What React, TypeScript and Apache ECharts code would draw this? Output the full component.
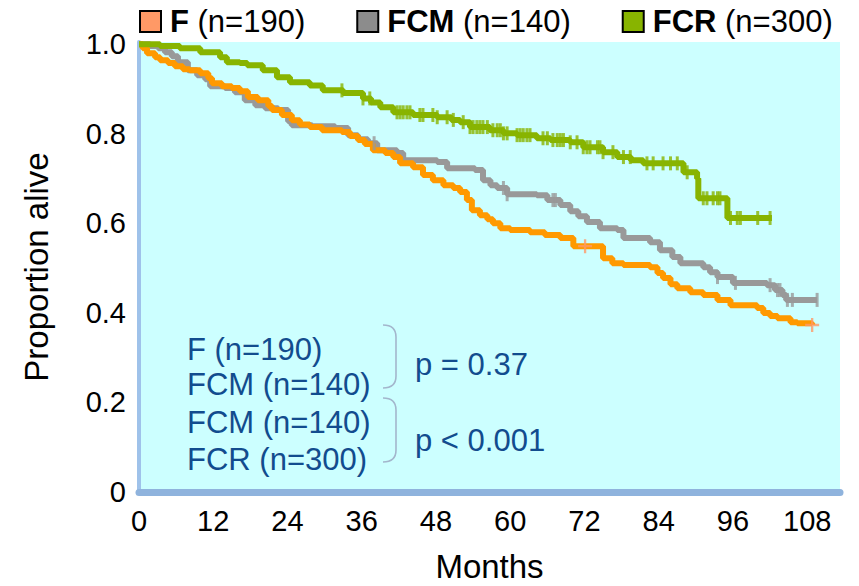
import { useEffect, useRef } from 'react';
import * as echarts from 'echarts';

const FONT = '"Liberation Sans", Arial, Helvetica, sans-serif';

// Axis ticks
const xTickValues = [0, 12, 24, 36, 48, 60, 72, 84, 96, 108];
const yTickValues = [0, 0.2, 0.4, 0.6, 0.8, 1.0];

// Legend
const groupNames = ['F', 'FCM', 'FCR'];
const groupN = ['190', '140', '300'];

// F (n=190) Kaplan-Meier steps
const fTimes = [0, 0.6, 1.3, 2.6, 3.4, 4.7, 5.8, 7.1, 8.2, 9.9, 11.2, 11.8, 13.4, 15.0, 16.3, 17.6, 19.2, 20.9, 21.5, 23.1, 24.7, 26.0, 27.6, 29.6, 32.8, 34.1, 35.4, 36.5, 37.8, 39.8, 41.1, 42.2, 44.3, 45.9, 47.5, 49.2, 50.8, 51.9, 53.0, 53.8, 55.1, 56.3, 57.2, 58.4, 60.0, 63.2, 65.6, 68.1, 70.2, 75.0, 76.5, 78.3, 82.6, 83.8, 84.7, 85.9, 87.0, 89.1, 91.2, 93.5, 95.6, 99.9, 100.9, 102.0, 103.2, 105.3, 106.4, 108.8];
const fSurv = [1.0, 0.991, 0.98, 0.971, 0.964, 0.958, 0.951, 0.944, 0.942, 0.935, 0.924, 0.913, 0.906, 0.902, 0.895, 0.882, 0.875, 0.862, 0.853, 0.842, 0.83, 0.821, 0.815, 0.808, 0.804, 0.795, 0.786, 0.777, 0.763, 0.757, 0.748, 0.734, 0.725, 0.708, 0.696, 0.685, 0.679, 0.67, 0.652, 0.629, 0.618, 0.609, 0.6, 0.589, 0.585, 0.58, 0.574, 0.567, 0.549, 0.522, 0.511, 0.507, 0.502, 0.489, 0.478, 0.464, 0.455, 0.446, 0.44, 0.429, 0.417, 0.411, 0.4, 0.393, 0.388, 0.379, 0.377, 0.373];
const fCensor = [72.1, 108.8];

// FCM (n=140)
const fcmTimes = [0, 1.8, 3.1, 4.2, 5.3, 6.3, 7.9, 9.4, 10.7, 11.5, 13.9, 15.5, 17.1, 18.8, 20.4, 22.5, 24.1, 24.7, 28.0, 31.7, 33.8, 35.4, 37.0, 38.5, 41.7, 42.7, 48.2, 49.8, 54.3, 55.6, 56.8, 57.9, 59.5, 64.3, 66.0, 68.1, 69.7, 71.0, 72.4, 74.5, 77.3, 78.3, 82.6, 84.2, 86.2, 87.5, 91.2, 92.3, 93.5, 96.0, 101.5, 102.8, 104.0, 104.6, 109.6];
const fcmSurv = [1.0, 0.996, 0.991, 0.982, 0.973, 0.96, 0.942, 0.931, 0.922, 0.906, 0.902, 0.893, 0.875, 0.864, 0.857, 0.853, 0.828, 0.819, 0.817, 0.813, 0.797, 0.788, 0.779, 0.763, 0.757, 0.741, 0.737, 0.723, 0.719, 0.696, 0.685, 0.679, 0.665, 0.663, 0.652, 0.641, 0.627, 0.616, 0.603, 0.589, 0.585, 0.567, 0.558, 0.54, 0.525, 0.511, 0.502, 0.491, 0.48, 0.467, 0.462, 0.451, 0.44, 0.429, 0.429];
const fcmCensor = [38.0, 58.9, 59.5, 66.9, 67.3, 93.5, 96.4, 102.0, 103.2, 103.6, 104.8, 105.6, 109.6];

// FCR (n=300)
const fcrTimes = [0, 3.4, 6.6, 9.9, 13.1, 14.2, 16.3, 17.5, 20.0, 22.3, 24.4, 27.6, 29.7, 33.0, 36.2, 37.5, 39.0, 41.1, 44.3, 48.2, 50.5, 51.9, 53.5, 56.7, 58.9, 61.1, 64.3, 66.5, 69.7, 71.8, 75.0, 77.3, 79.5, 81.5, 88.0, 90.2, 90.4, 95.1, 102.3];
const fcrSurv = [1.0, 0.996, 0.991, 0.982, 0.971, 0.96, 0.958, 0.953, 0.942, 0.926, 0.915, 0.908, 0.897, 0.891, 0.879, 0.87, 0.859, 0.848, 0.842, 0.837, 0.831, 0.826, 0.815, 0.808, 0.801, 0.797, 0.79, 0.786, 0.781, 0.77, 0.759, 0.748, 0.741, 0.734, 0.714, 0.7, 0.656, 0.612, 0.612];
const fcrCensor = [32.8, 36.2, 37.3, 41.7, 42.2, 42.7, 43.3, 43.8, 45.4, 45.9, 47.5, 48.2, 49.8, 50.8, 52.4, 53.5, 54.0, 54.6, 55.1, 55.6, 56.3, 57.2, 57.9, 58.4, 58.9, 59.5, 61.1, 61.6, 62.1, 62.7, 63.2, 65.3, 66.0, 66.9, 67.6, 68.1, 68.6, 69.7, 70.8, 71.8, 72.4, 72.9, 74.1, 74.5, 75.0, 76.6, 78.3, 79.4, 82.1, 83.1, 84.7, 85.9, 87.0, 88.6, 91.2, 91.8, 92.8, 93.5, 93.9, 95.6, 96.7, 97.2, 100.0, 102.0];

const COL_F = '#ff9900';
const COL_F_MARK = '#ff9966';
const COL_FCM = '#999999';
const COL_FCR = '#88b400';
const TXT_BLUE = '#124c8e';
const BRACE = '#a3b6cc';

function pairs(t: number[], s: number[]) {
  return t.map((v, i) => [v, s[i]]);
}
function survAt(t: number[], s: number[], x: number) {
  let v = s[0];
  for (let i = 0; i < t.length; i++) {
    if (t[i] <= x + 1e-9) v = s[i];
  }
  return v;
}
function censorPts(t: number[], s: number[], c: number[]) {
  return c.map((x) => [x, survAt(t, s, x)]);
}

const PLUS = 'path://M5,0H7V5H12V7H7V12H5V7H0V5H5Z';

function brace(yTop: number, yBot: number) {
  const x0 = 383;
  const x1 = 396;
  const r = 12;
  return {
    type: 'group',
    children: [
      { type: 'bezierCurve', shape: { x1: x0, y1: yTop, cpx1: x1, cpy1: yTop, x2: x1, y2: yTop + r }, style: { stroke: BRACE, lineWidth: 1.6, fill: null } },
      { type: 'line', shape: { x1: x1, y1: yTop + r, x2: x1, y2: yBot - r }, style: { stroke: BRACE, lineWidth: 1.6 } },
      { type: 'bezierCurve', shape: { x1: x1, y1: yBot - r, cpx1: x1, cpy1: yBot, x2: x0, y2: yBot }, style: { stroke: BRACE, lineWidth: 1.6, fill: null } },
    ],
  };
}

function txt(x: number, y: number, s: string) {
  return {
    type: 'text',
    x,
    y,
    style: { text: s, fill: TXT_BLUE, font: `31px ${FONT}`, textVerticalAlign: 'middle', verticalAlign: 'middle' },
  };
}

export default function App() {
  const ref = useRef<HTMLDivElement>(null);
  useEffect(() => {
    const chart = echarts.init(ref.current!, null, { renderer: 'svg' });
    const lineBase = { type: 'line', step: 'end', showSymbol: false, symbol: 'none', lineStyle: { width: 6 } };
    const markBase = { type: 'scatter', symbol: 'rect', symbolSize: [3, 14], silent: true };
    const option: any = {
      animation: false,
      backgroundColor: '#ffffff',
      grid: {
        left: 139,
        right: 19,
        top: 42,
        bottom: 94,
        show: true,
        backgroundColor: '#ccffff',
        borderWidth: 0,
        outerBoundsMode: 'none',
        containLabel: false,
      },
      legend: {
        data: groupNames.map((n, i) => ({ name: n, itemStyle: { color: [COL_F_MARK, '#8c8c8c', COL_FCR][i] } })),
        left: 134,
        top: 1,
        icon: 'rect',
        itemWidth: 21,
        itemHeight: 21,
        itemGap: 51,
        itemStyle: { borderColor: '#000', borderWidth: 2 },
        formatter: (name: string) => `{b|${name}} (n=${groupN[groupNames.indexOf(name)]})`,
        textStyle: {
          fontSize: 31,
          color: '#000',
          fontFamily: FONT,
          padding: [0, 0, 0, 4],
          rich: { b: { fontSize: 31, fontWeight: 'bold', color: '#000', fontFamily: FONT } },
        },
      },
      xAxis: {
        type: 'value',
        min: 0,
        max: 113.3,
        interval: 12,
        name: 'Months',
        nameLocation: 'middle',
        nameGap: 58,
        nameTextStyle: { fontSize: 33, color: '#000', fontFamily: FONT },
        axisLine: { show: true, onZero: false, lineStyle: { color: '#8fb3dd', width: 7 } },
        axisTick: { show: false },
        splitLine: { show: false },
        axisLabel: {
          fontSize: 29,
          color: '#000',
          fontFamily: FONT,
          margin: 14,
          showMaxLabel: false,
          formatter: (v: number) => (xTickValues.includes(v) ? String(v) : ''),
        },
      },
      yAxis: {
        type: 'value',
        min: 0,
        max: 1.005,
        interval: 0.2,
        name: 'Proportion alive',
        nameLocation: 'middle',
        nameGap: 86,
        nameTextStyle: { fontSize: 33, color: '#000', fontFamily: FONT },
        axisLine: { show: true, lineStyle: { color: '#9fc2ea', width: 4 } },
        axisTick: { show: false },
        splitLine: { show: false },
        axisLabel: {
          fontSize: 29,
          color: '#000',
          fontFamily: FONT,
          margin: 13,
          formatter: (v: number) => {
            const hit = yTickValues.find((t) => Math.abs(t - v) < 1e-6);
            if (hit === undefined) return '';
            return hit === 0 ? '0' : hit.toFixed(1);
          },
        },
      },
      series: [
        { ...lineBase, name: 'FCM', color: COL_FCM, lineStyle: { width: 6, color: COL_FCM }, data: pairs(fcmTimes, fcmSurv), z: 2 },
        { ...lineBase, name: 'F', color: COL_F, lineStyle: { width: 6, color: COL_F }, data: pairs(fTimes, fSurv), z: 3 },
        { ...lineBase, name: 'FCR', color: COL_FCR, lineStyle: { width: 6, color: COL_FCR }, data: pairs(fcrTimes, fcrSurv), z: 4 },
        { ...markBase, name: 'FCM censored', itemStyle: { color: COL_FCM }, data: censorPts(fcmTimes, fcmSurv, fcmCensor), z: 5 },
        { ...markBase, name: 'F censored', symbol: PLUS, symbolSize: 14, itemStyle: { color: COL_F_MARK }, data: censorPts(fTimes, fSurv, fCensor), z: 5 },
        { ...markBase, name: 'FCR censored', itemStyle: { color: COL_FCR }, data: censorPts(fcrTimes, fcrSurv, fcrCensor), z: 5 },
      ],
      graphic: [
        txt(187, 349, 'F (n=190)'),
        txt(187, 384, 'FCM (n=140)'),
        txt(187, 422, 'FCM (n=140)'),
        txt(187, 459, 'FCR (n=300)'),
        txt(415, 364, 'p = 0.37'),
        txt(415, 440, 'p < 0.001'),
        brace(325, 388),
        brace(398, 462),
      ],
    };
    chart.setOption(option);
    return () => chart.dispose();
  }, []);
  return <div ref={ref} style={{ position: 'fixed', left: 0, top: 0, width: 859, height: 586 }} />;
}
